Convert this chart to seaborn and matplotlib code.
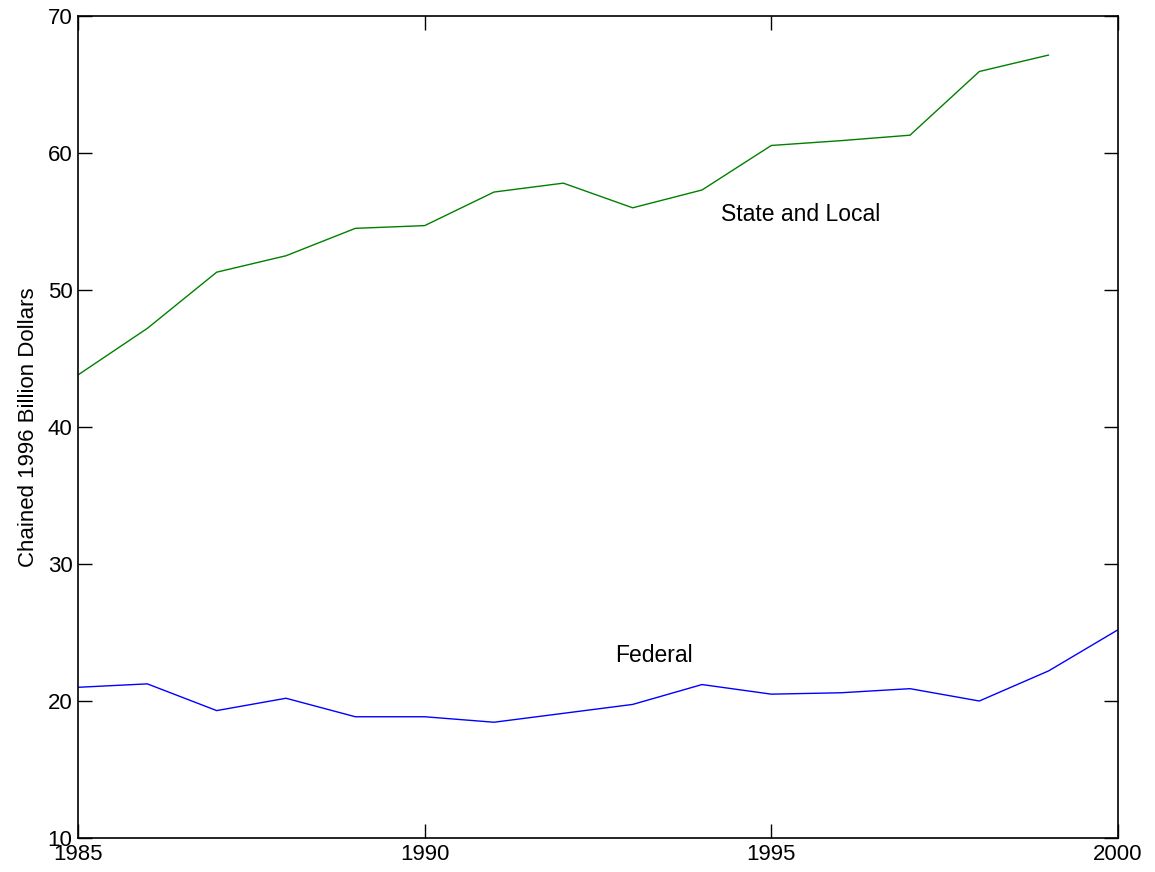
import matplotlib
matplotlib.use("Agg")
import matplotlib.pyplot as plt
import seaborn as sns
import pandas as pd

years = list(range(1985, 2001))
state_local = [43.8, 47.2, 51.3, 52.5, 54.5, 54.7, 57.15, 57.8, 56.0, 57.3,
               60.55, 60.9, 61.3, 65.95, 67.15, None]
federal = [21.0, 21.25, 19.3, 20.2, 18.85, 18.85, 18.45, 19.1, 19.75, 21.2,
           20.5, 20.6, 20.9, 20.0, 22.2, 25.2]
series_names = ["State and Local", "Federal"]
series_colors = {"State and Local": "#008000", "Federal": "#0000ff"}

df = pd.DataFrame({
    "Year": years * 2,
    "Value": state_local + federal,
    "Series": [series_names[0]] * len(years) + [series_names[1]] * len(years),
}).dropna()

sns.set_theme(style="white")
plt.rcParams["font.family"] = ["Liberation Sans", "DejaVu Sans"]
plt.rcParams["text.color"] = "black"
plt.rcParams["axes.labelcolor"] = "black"

fig = plt.figure(figsize=(11.55, 8.72), dpi=100)
ax = fig.add_axes([78 / 1155, 1 - 838 / 872, (1118 - 78) / 1155, (838 - 16) / 872])

sns.lineplot(data=df, x="Year", y="Value", hue="Series", palette=series_colors,
             ax=ax, legend=False, linewidth=1.0, estimator=None)

ax.set_xlim(1985, 2000)
ax.set_ylim(10, 70)
ax.set_xticks([1985, 1990, 1995, 2000])
ax.set_yticks([10, 20, 30, 40, 50, 60, 70])
ax.set_xlabel("")
ax.set_ylabel("Chained 1996 Billion Dollars", fontsize=16, labelpad=6, color="black")
ax.tick_params(direction="in", length=10, width=1, top=True, right=True,
               bottom=True, left=True, labelsize=16, colors="black", pad=4)
for s in ax.spines.values():
    s.set_visible(True)
    s.set_color("black")
    s.set_linewidth(1.2)

ax.text(1994.28, 55.5, "State and Local", fontsize=16.5, va="center", ha="left", color="black")
ax.text(1992.74, 23.3, "Federal", fontsize=16.5, va="center", ha="left", color="black")

fig.savefig("out.png", dpi=100, facecolor="white")
